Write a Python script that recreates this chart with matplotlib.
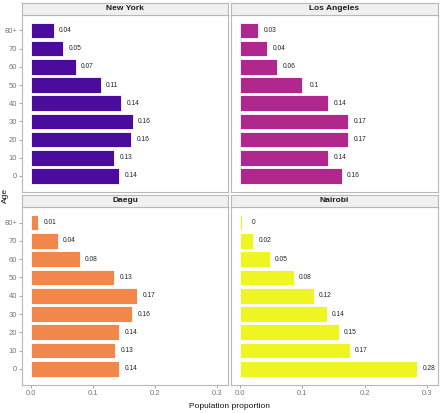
import matplotlib
matplotlib.use('Agg')
import matplotlib.pyplot as plt
import numpy as np

plt.rcParams['font.family'] = ['Liberation Sans', 'DejaVu Sans']

ages = ['0', '10', '20', '30', '40', '50', '60', '70', '80+']
cities = ['New York', 'Los Angeles', 'Daegu', 'Nairobi']

new_york = [0.142, 0.134, 0.162, 0.164, 0.145, 0.112, 0.072, 0.052, 0.036]
los_angeles = [0.163, 0.141, 0.174, 0.174, 0.141, 0.100, 0.059, 0.043, 0.029]
daegu = [0.142, 0.136, 0.142, 0.163, 0.171, 0.134, 0.078, 0.043, 0.011]
nairobi = [0.284, 0.176, 0.158, 0.139, 0.118, 0.086, 0.047, 0.021, 0.003]

ny_labels = ['0.14', '0.13', '0.16', '0.16', '0.14', '0.11', '0.07', '0.05', '0.04']
la_labels = ['0.16', '0.14', '0.17', '0.17', '0.14', '0.1', '0.06', '0.04', '0.03']
dg_labels = ['0.14', '0.13', '0.14', '0.16', '0.17', '0.13', '0.08', '0.04', '0.01']
nb_labels = ['0.28', '0.17', '0.15', '0.14', '0.12', '0.08', '0.05', '0.02', '0']

colors = ['#4b0c9e', '#b0288e', '#f2874c', '#eff523']
xticks = [0.0, 0.1, 0.2, 0.3]

fig = plt.figure(figsize=(4.4, 4.13), dpi=100)

W, H = 440.0, 413.0
# panel boxes in pixels: (left, top, right, bottom), strip height
boxes = [(22, 15, 228, 192), (231, 15, 438, 192),
         (22, 207, 228, 385), (231, 207, 438, 385)]
strip_h = 12

series = [new_york, los_angeles, daegu, nairobi]
labels = [ny_labels, la_labels, dg_labels, nb_labels]

for i, (l, t, r, b) in enumerate(boxes):
    ax = fig.add_axes([l / W, 1 - b / H, (r - l) / W, (b - t) / H])
    y = np.arange(len(ages))
    vals = series[i]
    ax.barh(y, vals, height=0.86, color=colors[i], edgecolor='#ffffff',
            linewidth=0.6)
    for yy, v, lab in zip(y, vals, labels[i]):
        ax.text(v + 0.019, yy, lab, ha='center', va='center', fontsize=4.8,
                color='#222222')
    ax.set_xlim(-0.015, 0.318)
    ax.set_ylim(-0.88, 8.85)
    for s in ax.spines.values():
        s.set_color('#b8b8b8')
        s.set_linewidth(0.8)
    ax.tick_params(colors='#999999', labelcolor='#777777', labelsize=5.5,
                   length=2, width=0.6, pad=1.5)
    ax.set_yticks(y)
    ax.set_xticks(xticks)
    if i % 2 == 0:
        ax.set_yticklabels(ages)
    else:
        ax.set_yticklabels([])
        ax.tick_params(axis='y', length=0)
    if i >= 2:
        ax.set_xticklabels(['0.0', '0.1', '0.2', '0.3'])
    else:
        ax.set_xticklabels([])
        ax.tick_params(axis='x', length=0)

    sax = fig.add_axes([l / W, 1 - t / H, (r - l) / W, strip_h / H])
    sax.set_facecolor('#f0f0f0')
    sax.set_xticks([])
    sax.set_yticks([])
    for s in sax.spines.values():
        s.set_color('#b8b8b8')
        s.set_linewidth(0.8)
    sax.text(0.5, 0.5, cities[i], ha='center', va='center', fontsize=6,
             fontweight='bold', color='#1a1a1a', transform=sax.transAxes)

fig.text(5 / W, 1 - 195 / H, 'Age', rotation=90, ha='center', va='center',
         fontsize=6, color='#111111')
fig.text(229.5 / W, 1 - 407 / H, 'Population proportion', ha='center',
         va='center', fontsize=6, color='#111111')

fig.savefig('out.png', dpi=100)
